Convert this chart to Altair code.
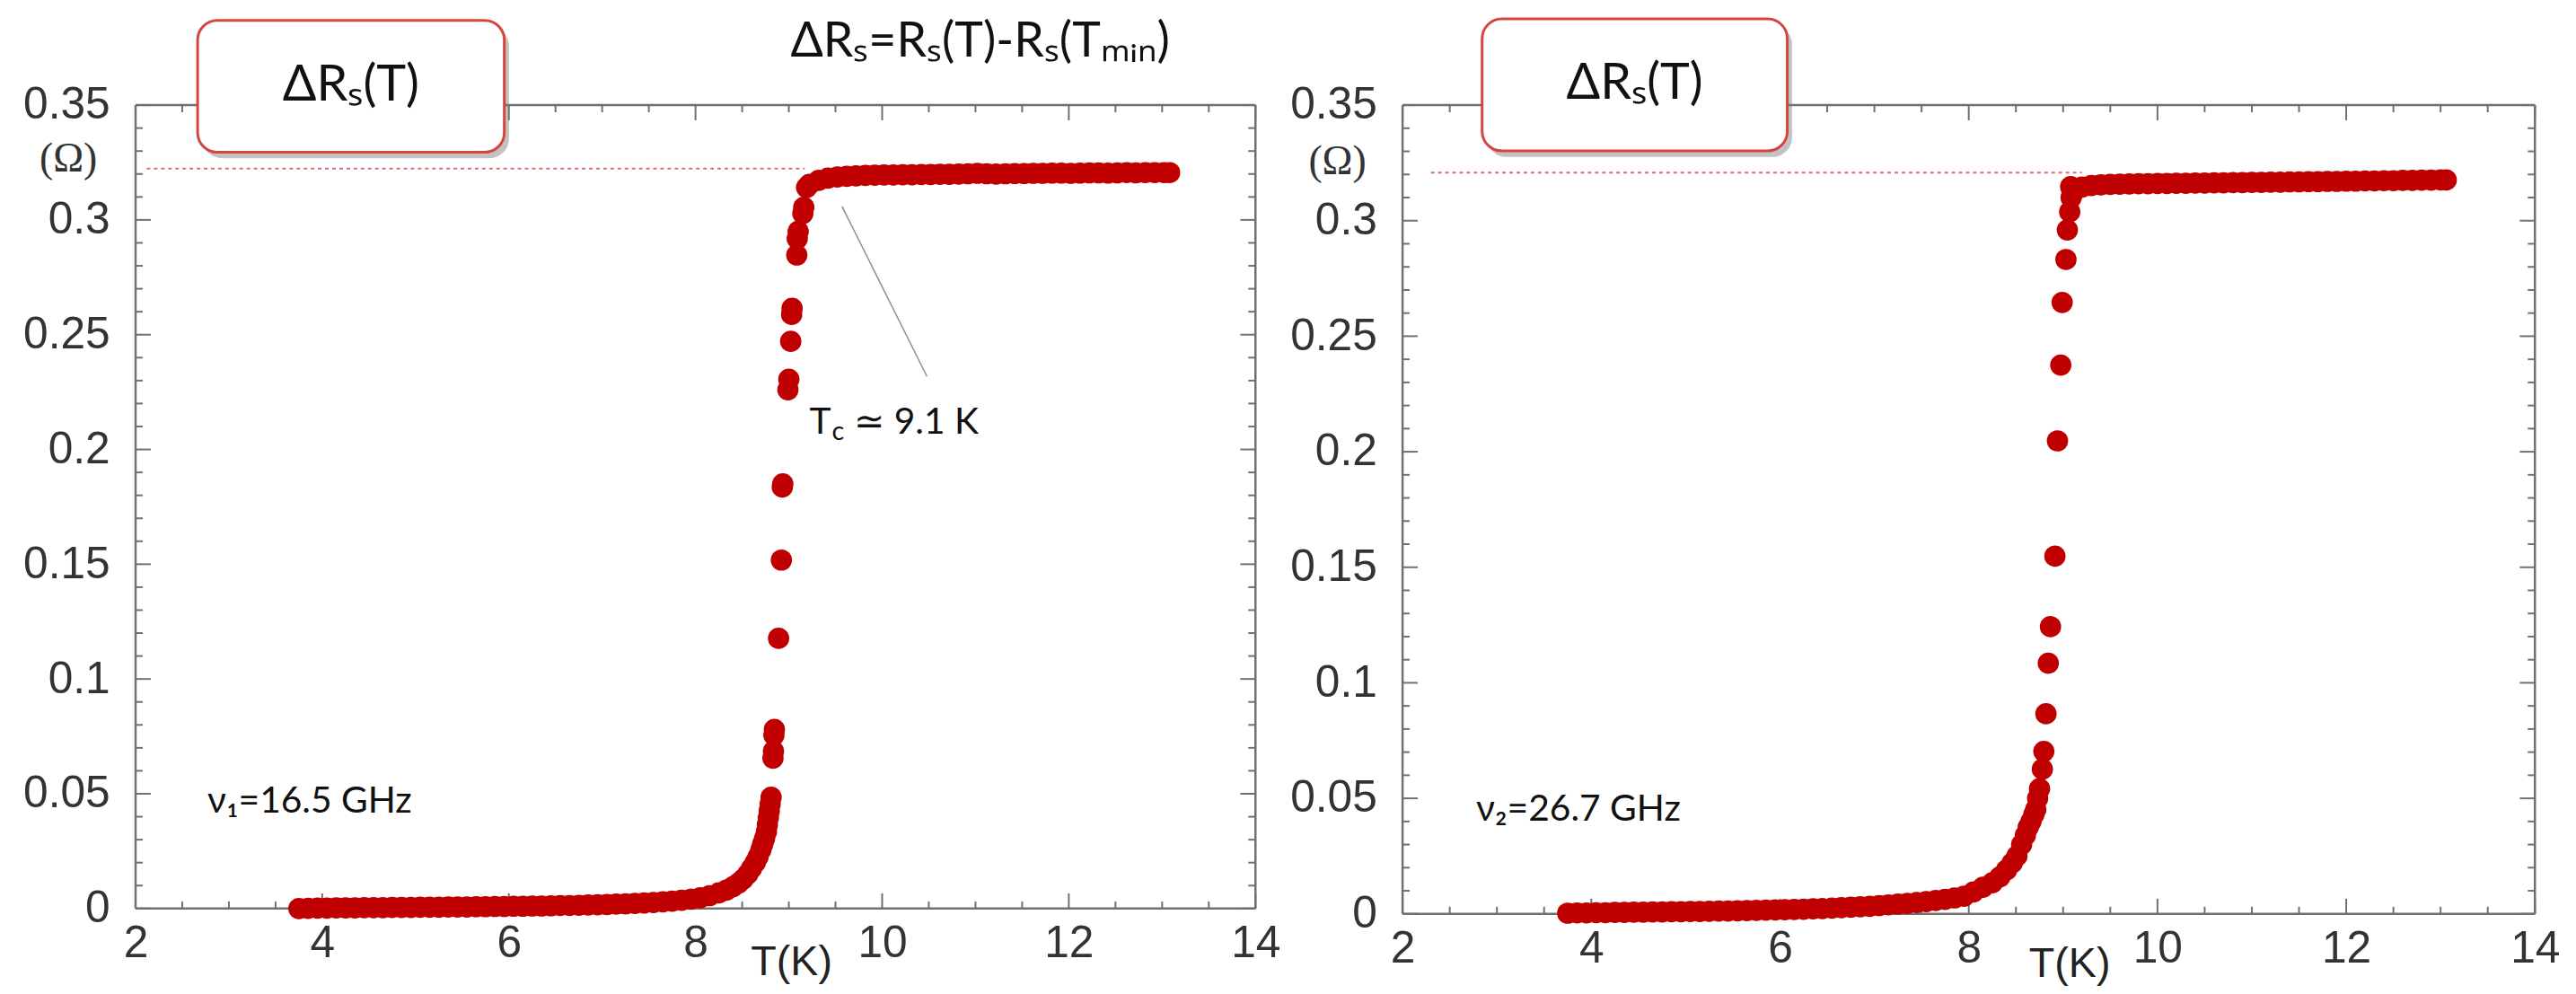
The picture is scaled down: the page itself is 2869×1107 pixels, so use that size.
import altair as alt
import pandas as pd

# ---------------- data ----------------
# panel 1 : nu1 = 16.5 GHz
T1_LOW = [3.75, 3.85, 3.95, 4.05, 4.15, 4.25, 4.35, 4.45, 4.55, 4.65,
          4.75, 4.85, 4.95, 5.05, 5.15, 5.25, 5.35, 5.45, 5.55, 5.65,
          5.75, 5.85, 5.95, 6.05, 6.15, 6.25, 6.35, 6.45, 6.55, 6.65,
          6.75, 6.85, 6.95, 7.05, 7.15, 7.25, 7.35, 7.45, 7.55, 7.65,
          7.75, 7.85, 7.95]
R1_LOW = [0.0000, 0.0001, 0.0002, 0.0002, 0.0003, 0.0003, 0.0003, 0.0004, 0.0004, 0.0004,
          0.0005, 0.0005, 0.0005, 0.0006, 0.0006, 0.0006, 0.0007, 0.0007, 0.0007, 0.0008,
          0.0008, 0.0009, 0.0009, 0.0010, 0.0010, 0.0011, 0.0011, 0.0012, 0.0013, 0.0013,
          0.0014, 0.0015, 0.0016, 0.0017, 0.0019, 0.0020, 0.0022, 0.0024, 0.0026, 0.0029,
          0.0032, 0.0036, 0.0041]
T1_TR = [8.05, 8.15, 8.25, 8.33, 8.40, 8.46, 8.51, 8.56, 8.60, 8.64,
         8.67, 8.70, 8.72, 8.74, 8.76, 8.77, 8.78, 8.79, 8.80, 8.81,
         8.83, 8.835, 8.84, 8.845, 8.89, 8.92, 8.93, 8.935, 8.99, 9.00,
         9.02, 9.03, 9.035, 9.085, 9.09, 9.10, 9.15, 9.16, 9.19]
R1_TR = [0.0047, 0.0056, 0.0068, 0.0080, 0.0095, 0.0110, 0.0128, 0.0150, 0.0175, 0.0200,
         0.0225, 0.0255, 0.0280, 0.0305, 0.0335, 0.0365, 0.0395, 0.0425, 0.0455, 0.0485,
         0.0655, 0.0685, 0.0755, 0.0780, 0.1177, 0.1518, 0.1836, 0.1850, 0.2260, 0.2306,
         0.2471, 0.2588, 0.2615, 0.2847, 0.2918, 0.2950, 0.3028, 0.3055, 0.3141]
T1_PL = [9.22, 9.32, 9.42, 9.52, 9.62, 9.72, 9.82, 9.92, 10.02, 10.12,
         10.22, 10.32, 10.42, 10.52, 10.62, 10.72, 10.82, 10.92, 11.02, 11.12,
         11.22, 11.32, 11.42, 11.52, 11.62, 11.72, 11.82, 11.92, 12.02, 12.12,
         12.22, 12.32, 12.42, 12.52, 12.62, 12.72, 12.82, 12.92, 13.02, 13.08]
R1_PL = [0.3155, 0.3172, 0.3182, 0.3187, 0.3190, 0.3192, 0.3194, 0.3195, 0.3196, 0.3196,
         0.3197, 0.3197, 0.3198, 0.3198, 0.3199, 0.3199, 0.3200, 0.3201, 0.3203, 0.3201,
         0.3200, 0.3201, 0.3202, 0.3202, 0.3203, 0.3203, 0.3204, 0.3204, 0.3203, 0.3204,
         0.3205, 0.3205, 0.3204, 0.3205, 0.3206, 0.3205, 0.3206, 0.3206, 0.3206, 0.3206]

# panel 2 : nu2 = 26.7 GHz
T2_LOW = T1_LOW
R2_LOW = [0.0003, 0.0004, 0.0004, 0.0005, 0.0005, 0.0006, 0.0006, 0.0007, 0.0007, 0.0008,
          0.0008, 0.0009, 0.0009, 0.0010, 0.0010, 0.0011, 0.0012, 0.0012, 0.0013, 0.0014,
          0.0015, 0.0016, 0.0017, 0.0018, 0.0019, 0.0020, 0.0022, 0.0023, 0.0025, 0.0027,
          0.0029, 0.0031, 0.0033, 0.0036, 0.0039, 0.0042, 0.0045, 0.0049, 0.0053, 0.0058,
          0.0063, 0.0069, 0.0076]
T2_TR = [8.05, 8.15, 8.25, 8.33, 8.40, 8.46, 8.51, 8.56, 8.60, 8.63,
         8.66, 8.69, 8.71, 8.73, 8.75, 8.78, 8.796, 8.818, 8.843, 8.866,
         8.913, 8.94, 8.975, 8.99, 9.03, 9.045, 9.07, 9.085, 9.08]
R2_TR = [0.0095, 0.0115, 0.0135, 0.0160, 0.0190, 0.0220, 0.0250, 0.0300, 0.0340, 0.0375,
         0.0400, 0.0430, 0.0452, 0.0500, 0.0542, 0.0626, 0.0703, 0.0866, 0.1085, 0.1243,
         0.1548, 0.2047, 0.2375, 0.2646, 0.2832, 0.2960, 0.3038, 0.3100, 0.3147]
T2_PL = [9.12, 9.2, 9.3, 9.4, 9.5, 9.6, 9.7, 9.8, 9.9, 10.0,
         10.1, 10.2, 10.3, 10.4, 10.5, 10.6, 10.7, 10.8, 10.9, 11.0,
         11.1, 11.2, 11.3, 11.4, 11.5, 11.6, 11.7, 11.8, 11.9, 12.0,
         12.1, 12.2, 12.3, 12.4, 12.5, 12.6, 12.7, 12.8, 12.9, 13.0, 13.06]
R2_PL = [0.3130, 0.3145, 0.3152, 0.3155, 0.3157, 0.3158, 0.3159, 0.3160, 0.3160, 0.3161,
         0.3161, 0.3162, 0.3162, 0.3163, 0.3163, 0.3164, 0.3164, 0.3165, 0.3165, 0.3166,
         0.3166, 0.3167, 0.3167, 0.3168, 0.3168, 0.3169, 0.3169, 0.3170, 0.3170, 0.3171,
         0.3171, 0.3172, 0.3172, 0.3173, 0.3173, 0.3174, 0.3174, 0.3175, 0.3175, 0.3176, 0.3176]

# plateau reference levels (dotted lines): [T start, T end, level]
DOT1 = [2.12, 9.17, 0.3224]
DOT2 = [2.30, 9.20, 0.3208]

# axis ticks
X_MAJOR = [2, 4, 6, 8, 10, 12, 14]
X_MINOR = [2.5, 3, 3.5, 4.5, 5, 5.5, 6.5, 7, 7.5, 8.5, 9, 9.5, 10.5, 11, 11.5, 12.5, 13, 13.5]
Y_MAJOR = [0, 0.05, 0.1, 0.15, 0.2, 0.25, 0.3, 0.35]
Y_MINOR = [0.01, 0.02, 0.03, 0.04, 0.06, 0.07, 0.08, 0.09, 0.11, 0.12, 0.13, 0.14,
           0.16, 0.17, 0.18, 0.19, 0.21, 0.22, 0.23, 0.24, 0.26, 0.27, 0.28, 0.29,
           0.31, 0.32, 0.33, 0.34]

# labels
BOX_TEXT = "ΔRₛ(T)"
HEADER = "ΔRₛ=Rₛ(T)-Rₛ(Tₘᵢₙ)"
NU1 = "ν₁=16.5 GHz"
NU2 = "ν₂=26.7 GHz"
TC_PARTS = ["T", "c", "≃ 9.1 K"]
XTITLE = "T(K)"
UNIT = "(Ω)"

# ---------------- styles ----------------
RED = "#c00000"
FRAME = "#707070"
LABEL_FONT = "Liberation Sans"
TEXT_FONT = "Lato"

xs = alt.Scale(domain=[2, 14], nice=False, zero=False)
ys = alt.Scale(domain=[0, 0.35], nice=False, zero=False)
xaxis = alt.Axis(values=X_MAJOR, format="d", labelFont=LABEL_FONT, labelFontSize=50,
                 labelColor="#333333", labelPadding=14, ticks=False, tickSize=0,
                 domain=False, grid=False, title=None, labelFlush=False, labelOverlap=False)
yaxis = alt.Axis(values=Y_MAJOR, format="~g", labelFont=LABEL_FONT, labelFontSize=50,
                 labelColor="#333333", labelPadding=29, ticks=False, tickSize=0,
                 domain=False, grid=False, title=None, labelFlush=False, labelOverlap=False)


def X(f="T"):
    return alt.X(f + ":Q", scale=xs, axis=xaxis)


def Y(f="R"):
    return alt.Y(f + ":Q", scale=ys, axis=yaxis)


def panel(W, H, low, tr, pl, dot, box, nu, nu_pos, xt_pos, om_pos, extra=None):
    layers = []
    # frame
    frame = pd.DataFrame({"T": [2, 2, 2, 14], "T2": [14, 14, 2, 14],
                          "R": [0, 0.35, 0, 0], "R2": [0, 0.35, 0.35, 0.35]})
    layers.append(alt.Chart(frame).mark_rule(color=FRAME, strokeWidth=2.5).encode(
        x=X(), x2="T2:Q", y=Y(), y2="R2:Q"))
    # inward ticks on four sides
    for vals, ln in ((X_MAJOR, 17), (X_MINOR, 8)):
        d = pd.DataFrame({"T": vals})
        layers.append(alt.Chart(d).mark_rule(color=FRAME, strokeWidth=2).encode(
            x=X(), y=alt.value(H), y2=alt.value(H - ln)))
        layers.append(alt.Chart(d).mark_rule(color=FRAME, strokeWidth=2).encode(
            x=X(), y=alt.value(0), y2=alt.value(ln)))
    for vals, ln in ((Y_MAJOR, 17), (Y_MINOR, 8)):
        d = pd.DataFrame({"R": vals})
        layers.append(alt.Chart(d).mark_rule(color=FRAME, strokeWidth=2).encode(
            y=Y(), x=alt.value(0), x2=alt.value(ln)))
        layers.append(alt.Chart(d).mark_rule(color=FRAME, strokeWidth=2).encode(
            y=Y(), x=alt.value(W), x2=alt.value(W - ln)))
    # dotted plateau line
    dd = pd.DataFrame({"T": [dot[0]], "T2": [dot[1]], "R": [dot[2]]})
    layers.append(alt.Chart(dd).mark_rule(color="#e06a6a", strokeWidth=2,
                                          strokeDash=[4, 4]).encode(x=X(), x2="T2:Q", y=Y()))
    # data points
    pts = pd.DataFrame({"T": low[0] + tr[0] + pl[0], "R": low[1] + tr[1] + pl[1]})
    layers.append(alt.Chart(pts).mark_circle(size=570, color=RED, opacity=1).encode(
        x=X(), y=Y()))
    # box with shadow
    b = pd.DataFrame({"T": [box[0]], "T2": [box[1]], "R": [box[2]], "R2": [box[3]]})
    sh = pd.DataFrame({"T": [box[0] + 0.05], "T2": [box[1] + 0.05],
                       "R": [box[2] - 0.0026], "R2": [box[3] - 0.0026]})
    layers.append(alt.Chart(sh).mark_rect(cornerRadius=22, color="#777777", opacity=0.45).encode(
        x=X(), x2="T2:Q", y=Y(), y2="R2:Q"))
    layers.append(alt.Chart(b).mark_rect(cornerRadius=22, fill="white", stroke="#d6453d",
                                         strokeWidth=3).encode(
        x=X(), x2="T2:Q", y=Y(), y2="R2:Q"))
    bt = pd.DataFrame({"T": [(box[0] + box[1]) / 2], "R": [(box[2] + box[3]) / 2 + 0.0005],
                       "txt": [BOX_TEXT]})
    layers.append(alt.Chart(bt).mark_text(font=TEXT_FONT, fontSize=56, color="#111111",
                                          align="center", baseline="middle").encode(
        x=X(), y=Y(), text="txt:N"))
    # nu label
    nd = pd.DataFrame({"T": [nu_pos[0]], "R": [nu_pos[1]], "txt": [nu]})
    layers.append(alt.Chart(nd).mark_text(font=TEXT_FONT, fontSize=41, color="#111111",
                                          align="left", baseline="middle").encode(
        x=X(), y=Y(), text="txt:N"))
    # x title
    xd = pd.DataFrame({"T": [xt_pos[0]], "R": [xt_pos[1]], "txt": [XTITLE]})
    layers.append(alt.Chart(xd).mark_text(font=LABEL_FONT, fontSize=47, color="#222222",
                                          align="center", baseline="middle").encode(
        x=X(), y=Y(), text="txt:N"))
    # unit
    od = pd.DataFrame({"T": [om_pos[0]], "R": [om_pos[1]], "txt": [UNIT]})
    layers.append(alt.Chart(od).mark_text(font="Liberation Serif", fontSize=46, color="#333333",
                                          align="center", baseline="middle").encode(
        x=X(), y=Y(), text="txt:N"))
    if extra:
        layers += extra
    return alt.layer(*layers).properties(width=W, height=H)


# extra annotations for panel 1
ann_line = pd.DataFrame({"T": [9.57], "T2": [10.48], "R": [0.3059], "R2": [0.2318]})
ann = [
    alt.Chart(ann_line).mark_rule(color="#8c8c8c", strokeWidth=1.5).encode(
        x=X(), x2="T2:Q", y=Y(), y2="R2:Q"),
    alt.Chart(pd.DataFrame({"T": [9.22], "R": [0.2068], "txt": [TC_PARTS[0]]})).mark_text(
        font=TEXT_FONT, fontSize=41, color="#111111", align="left", baseline="alphabetic").encode(
        x=X(), y=Y(), text="txt:N"),
    alt.Chart(pd.DataFrame({"T": [9.46], "R": [0.2040], "txt": [TC_PARTS[1]]})).mark_text(
        font=TEXT_FONT, fontSize=29, color="#111111", align="left", baseline="alphabetic").encode(
        x=X(), y=Y(), text="txt:N"),
    alt.Chart(pd.DataFrame({"T": [9.70], "R": [0.2068], "txt": [TC_PARTS[2]]})).mark_text(
        font=TEXT_FONT, fontSize=41, color="#111111", align="left", baseline="alphabetic").encode(
        x=X(), y=Y(), text="txt:N"),
    alt.Chart(pd.DataFrame({"T": [11.05], "R": [0.3775], "txt": [HEADER]})).mark_text(
        font=TEXT_FONT, fontSize=54, color="#111111", align="center", baseline="middle").encode(
        x=X(), y=Y(), text="txt:N"),
]

left = panel(1256, 901, (T1_LOW, R1_LOW), (T1_TR, R1_TR), (T1_PL, R1_PL), DOT1,
             [2.665, 5.951, 0.3295, 0.3869], NU1, [2.77, 0.0465],
             [9.03, -0.0237], [1.28, 0.3264], extra=ann)
right = panel(1270, 907, (T2_LOW, R2_LOW), (T2_TR, R2_TR), (T2_PL, R2_PL), DOT2,
              [2.843, 6.077, 0.3302, 0.3873], NU2, [2.78, 0.045],
              [9.07, -0.0218], [1.31, 0.3255])

chart = alt.hconcat(left, right, spacing=165, bounds="flush").properties(
    padding={"left": 17, "top": 7, "right": 10, "bottom": 5}
).configure_view(stroke=None)

chart.save("out.html", embed_options={"renderer": "svg", "actions": False})
